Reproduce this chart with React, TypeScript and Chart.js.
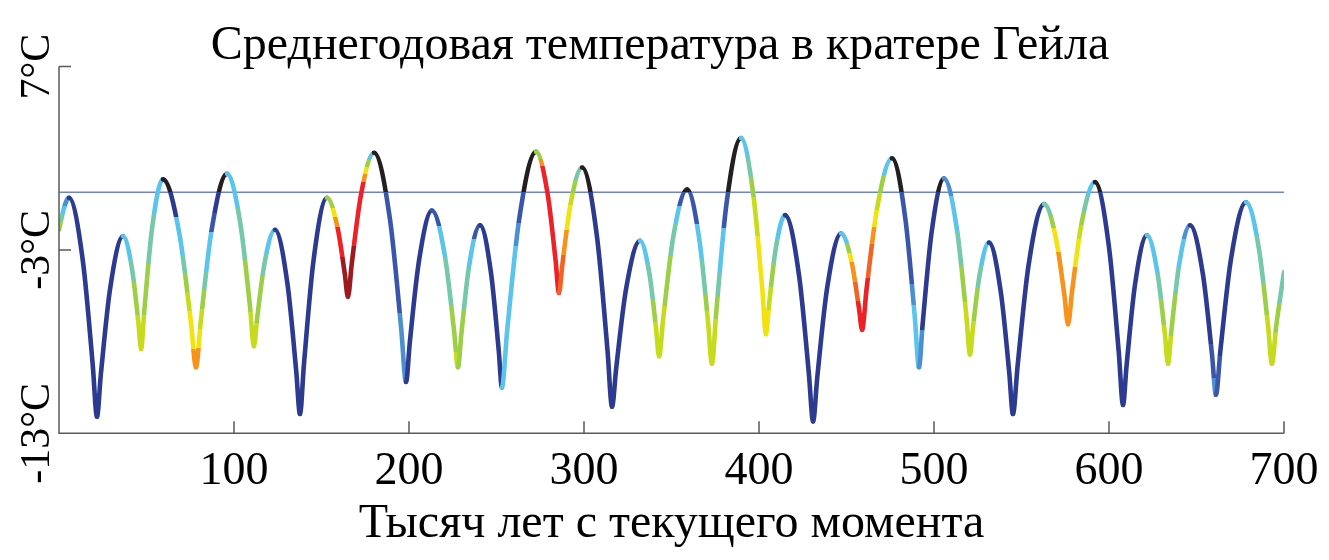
import React, { useEffect, useRef } from 'react';
import { Chart, registerables } from 'chart.js';

Chart.register(...registerables);

// ---------- text ----------
const TITLE = 'Среднегодовая температура в кратере Гейла';
const X_TITLE = 'Тысяч лет с текущего момента';

// ---------- axes ----------
const X_MIN = 0;
const X_MAX = 700;
const Y_MIN = -13;
const Y_MAX = 7;
const X_TICKS = [100, 200, 300, 400, 500, 600, 700];
const Y_TICKS = [-13, -3, 7];
const FREEZE_LEVEL = 0.15; // horizontal reference line (°C)

// ---------- series: mean annual temperature ----------
const YEARS_KYR = [
  0, 2.9, 5.7, 13.7, 19.3, 21.7, 23.9, 29.15, 36.6, 41.75, 45.35, 46.9, 48.8, 53.15,
  59.4, 68.85, 75.45, 78.3, 80.95, 87.15, 96, 103.7, 109.1, 111.4, 113.2, 117.4,
  123.4, 130.55, 135.55, 137.7, 140, 145.4, 153.1, 159.1, 163.3, 165.1, 167.35, 172.55,
  180, 189.15, 195.55, 198.3, 200.5, 205.7, 213.1, 220.55, 225.75, 228, 229.9, 234.3,
  240.6, 246.85, 251.25, 253.1, 256, 262.85, 272.6, 279.15, 283.75, 285.7, 287.7, 292.3,
  298.9, 307.45, 313.45, 316, 318.4, 324, 332, 337.45, 341.25, 342.9, 345.3, 350.9,
  358.9, 366, 370.95, 373.1, 375.6, 381.4, 389.7, 396.85, 401.85, 404, 405.65, 409.45,
  414.9, 422.9, 428.5, 430.9, 433.3, 438.9, 446.9, 452.9, 457.1, 458.9, 461.45, 467.45,
  476, 483.7, 489.1, 491.4, 493.55, 498.55, 505.7, 513.15, 518.35, 520.6, 522.2, 526,
  531.4, 538.25, 543.05, 545.1, 547.8, 554, 562.9, 569.75, 574.55, 576.6, 578.9, 584.3,
  592, 600, 605.6, 608, 610.05, 614.85, 621.7, 627.7, 631.9, 633.7, 635.6, 640,
  646.3, 653.7, 658.9, 661.1, 663.7, 669.7, 678.3, 685.7, 690.9, 693.1, 695.5, 700,
];
const TEMP_C = [
  -1.9, -0.7, -0.15, -3.65, -9.3, -12.1, -9.8, -5.15, -2.25, -4.05, -6.95, -8.4, -6.25, -1.85,
  0.85, -2.15, -7.0, -9.4, -6.95, -1.95, 1.15, -1.6, -6.05, -8.25, -6.75, -3.75,
  -1.9, -4.85, -9.6, -11.95, -9.2, -3.6, -0.15, -1.75, -4.3, -5.55, -3.7, 0.0,
  2.3, -1.35, -7.3, -10.2, -8.0, -3.6, -0.85, -3.35, -7.4, -9.4, -7.6, -3.9,
  -1.65, -4.25, -8.45, -10.5, -7.5, -1.4, 2.35, 0.1, -3.55, -5.35, -3.75, -0.5,
  1.5, -2.3, -8.5, -11.55, -9.45, -5.15, -2.5, -4.35, -7.35, -8.8, -6.7, -2.35,
  0.3, -2.5, -7.0, -9.2, -6.35, -0.5, 3.1, -0.05, -5.1, -7.6, -6.1, -3.0,
  -1.1, -4.4, -9.75, -12.35, -9.95, -5.1, -2.1, -3.65, -6.15, -7.35, -5.15, -0.75,
  2.0, -1.35, -6.75, -9.4, -7.0, -2.1, 0.9, -1.9, -6.45, -8.7, -7.3, -4.4,
  -2.6, -5.35, -9.75, -11.95, -9.3, -3.85, -0.5, -2.4, -5.5, -7.05, -5.25, -1.55,
  0.7, -2.85, -8.6, -11.45, -9.3, -4.9, -2.2, -4.25, -7.55, -9.2, -7.45, -3.85,
  -1.65, -4.35, -8.75, -10.9, -8.45, -3.5, -0.4, -2.95, -7.15, -9.2, -7.2, -4.2,
];

// colour bands of each rise/fall of the curve, listed from its top to its bottom
const ARC_COLOR_BANDS = [
  'LCTG', 'N', 'N', 'CCTTGGGYYY', 'CCTTTGGGYY', 'NNCCTGYWWO', 'NNBCCTGYWO', 'CCTTTGGGYY',
  'CCTTGGGGYY', 'N', 'N', 'GWORRRDDDD', 'CGWORRRRRRRRRDDDDDDD', 'BBBBBBBLLL', 'N', 'BCCTTTGGGY',
  'BCCTTTGGGG', 'N', 'BBBLCCCCCC', 'GORRRRRRRRRRRRRRRRRR', 'TGYWWOOPPP', 'N', 'N', 'CCTTTGGYYY',
  'BCTTGGGYYY', 'BBCCTTGYYY', 'BBBBCCTGYY', 'CTGYYWWWWW', 'CCTTGGYYWW', 'N', 'N', 'CGWOOPPRRR',
  'CGYWOPPRRR', 'BBBBBBLCCC', 'NNNNNNNNLL', 'LCCTTGGYYY', 'CCTTGGGYYY', 'N', 'N', 'TGWWOOOOOO',
  'CTGYWWOOOO', 'N', 'N', 'CCCTTGGYYY', 'LCCTTGGGYY', 'NNNNNNNBBL', 'NNNNNNNNBB', 'CCTTTGGYYY',
  'TTGGYY',
];
// arcs whose part above the reference line is drawn black
const ARC_BLACK_ABOVE = [
  false, false, false, false, false, true, true, false,
  false, false, false, false, false, true, false, false,
  false, false, true, false, false, true, false, false,
  true, true, true, false, false, false, false, false,
  false, true, true, false, false, false, false, false,
  false, true, false, false, false, false, false, false,
  false,
];

const PALETTE: Record<string, string> = {
  N: '#2c3a8f',
  B: '#3a56a9',
  L: '#4c8fd1',
  C: '#5bc4ea',
  T: '#76c8aa',
  G: '#9ccf47',
  Y: '#c6db1b',
  W: '#f2e30f',
  O: '#f7931d',
  P: '#f26423',
  R: '#ec2227',
  D: '#9c1b20',
  K: '#231f20',
};

const FONT_FAMILY = "'Liberation Serif', 'Times New Roman', serif";
const AXIS_COLOR = '#5a5a5a';
const LINE_COLOR = '#7183cf';

// arcs = stretches between local extrema of the series
const EXTREMA: number[] = [];
for (let i = 1; i < TEMP_C.length - 1; i++) {
  const a = TEMP_C[i] - TEMP_C[i - 1];
  const b = TEMP_C[i + 1] - TEMP_C[i];
  if (a * b < 0) EXTREMA.push(i);
}
const ARC_BOUNDS = [0, ...EXTREMA, TEMP_C.length - 1];

function arcOfSegment(i0: number): number {
  let k = 0;
  while (k < ARC_BOUNDS.length - 2 && i0 >= ARC_BOUNDS[k + 1]) k++;
  return k;
}

const gradientCache = new Map<string, CanvasGradient>();
function arcGradient(chart: any, k: number): CanvasGradient | string {
  const yScale = chart.scales.y;
  if (!yScale) return PALETTE.N;
  const s = ARC_BOUNDS[k];
  const e = ARC_BOUNDS[k + 1];
  const hi = Math.max(TEMP_C[s], TEMP_C[e]);
  const lo = Math.min(TEMP_C[s], TEMP_C[e]);
  const top = yScale.getPixelForValue(hi);
  const bot = yScale.getPixelForValue(lo);
  const key = `${k}|${top.toFixed(2)}|${bot.toFixed(2)}`;
  const cached = gradientCache.get(key);
  if (cached) return cached;
  const g = chart.ctx.createLinearGradient(0, top, 0, bot);
  const bands = ARC_COLOR_BANDS[k] || 'N';
  const n = bands.length;
  let fz = 0;
  if (ARC_BLACK_ABOVE[k]) {
    const zp = yScale.getPixelForValue(FREEZE_LEVEL);
    fz = Math.min(1, Math.max(0, (zp - top) / Math.max(1, bot - top)));
    if (fz > 0) {
      g.addColorStop(0, PALETTE.K);
      g.addColorStop(fz, PALETTE.K);
    }
  }
  for (let j = 0; j < n; j++) {
    const a = Math.max(j / n, fz);
    const b = (j + 1) / n;
    if (b <= fz) continue;
    const c = PALETTE[bands[j]] || PALETTE.N;
    g.addColorStop(a, c);
    g.addColorStop(b, c);
  }
  gradientCache.set(key, g);
  return g;
}

const axesDecor = {
  id: 'axesDecor',
  afterDraw(chart: any) {
    const { ctx, chartArea: a, scales } = chart;
    const x = scales.x;
    const y = scales.y;
    ctx.save();
    ctx.strokeStyle = AXIS_COLOR;
    ctx.lineWidth = 1.5;
    ctx.beginPath();
    ctx.moveTo(a.left, a.top);
    ctx.lineTo(a.left, a.bottom);
    ctx.lineTo(a.right, a.bottom);
    for (const v of Y_TICKS) {
      const py = y.getPixelForValue(v);
      ctx.moveTo(a.left, py);
      ctx.lineTo(a.left + 12, py);
    }
    for (const v of X_TICKS) {
      const px = x.getPixelForValue(v);
      ctx.moveTo(px, a.bottom);
      ctx.lineTo(px, a.bottom - 12);
    }
    ctx.stroke();
    ctx.fillStyle = '#000';
    ctx.font = `42px ${FONT_FAMILY}`;
    ctx.textAlign = 'center';
    ctx.textBaseline = 'alphabetic';
    for (const v of Y_TICKS) {
      const py = y.getPixelForValue(v);
      ctx.save();
      ctx.translate(49, py);
      ctx.rotate(-Math.PI / 2);
      ctx.fillText(`${v}°C`, 0, 0);
      ctx.restore();
    }
    ctx.restore();
  },
};

export default function App() {
  const canvasRef = useRef<HTMLCanvasElement | null>(null);

  useEffect(() => {
    const canvas = canvasRef.current;
    if (!canvas) return;
    gradientCache.clear();
    const series = YEARS_KYR.map((x, i) => ({ x, y: TEMP_C[i] }));
    const level = [
      { x: X_MIN, y: FREEZE_LEVEL },
      { x: X_MAX, y: FREEZE_LEVEL },
    ];
    const chart = new Chart(canvas, {
      type: 'line',
      data: {
        datasets: [
          {
            label: 'temperature',
            data: series,
            borderColor: PALETTE.N,
            borderWidth: 4.6,
            borderCapStyle: 'round',
            borderJoinStyle: 'round',
            pointRadius: 0,
            fill: false,
            cubicInterpolationMode: 'monotone',
            order: 0,
            segment: {
              borderColor: (ctx: any) => arcGradient(ctx.chart, arcOfSegment(ctx.p0DataIndex)),
            },
          } as any,
          {
            label: 'level',
            data: level,
            borderColor: LINE_COLOR,
            borderWidth: 1.5,
            pointRadius: 0,
            fill: false,
            tension: 0,
            order: 1,
          },
        ],
      },
      options: {
        animation: false,
        responsive: false,
        maintainAspectRatio: false,
        events: [],
        layout: { padding: { left: 36, right: 45, top: 0, bottom: 0 } },
        plugins: {
          legend: { display: false },
          tooltip: { enabled: false },
          title: {
            display: true,
            text: TITLE,
            color: '#000',
            font: { family: FONT_FAMILY, size: 48, weight: 'normal', lineHeight: 0.95 },
            padding: { top: 24, bottom: -3 },
          },
        },
        scales: {
          x: {
            type: 'linear',
            min: X_MIN,
            max: X_MAX,
            grid: { display: false },
            border: { display: false },
            afterBuildTicks: (scale: any) => {
              scale.ticks = X_TICKS.map((value) => ({ value }));
            },
            afterFit: (scale: any) => {
              scale.height = 126.7;
            },
            ticks: {
              autoSkip: false,
              maxRotation: 0,
              minRotation: 0,
              padding: 3,
              color: '#000',
              font: { family: FONT_FAMILY, size: 46 },
              callback: (v: any) => String(v),
            },
            title: {
              display: true,
              text: X_TITLE,
              color: '#000',
              font: { family: FONT_FAMILY, size: 48, lineHeight: 1.2 },
              padding: { top: 0, bottom: 7 },
            },
          },
          y: {
            type: 'linear',
            min: Y_MIN,
            max: Y_MAX,
            grid: { display: false },
            border: { display: false },
            afterBuildTicks: (scale: any) => {
              scale.ticks = Y_TICKS.map((value) => ({ value }));
            },
            afterFit: (scale: any) => {
              scale.width = 23;
            },
            ticks: { display: false },
          },
        },
      },
      plugins: [axesDecor],
    });
    return () => chart.destroy();
  }, []);

  return (
    <div style={{ position: 'fixed', left: 0, top: 0, width: 1329, height: 560, background: '#fff' }}>
      <canvas ref={canvasRef} width={1329} height={560} style={{ display: 'block' }} />
    </div>
  );
}
